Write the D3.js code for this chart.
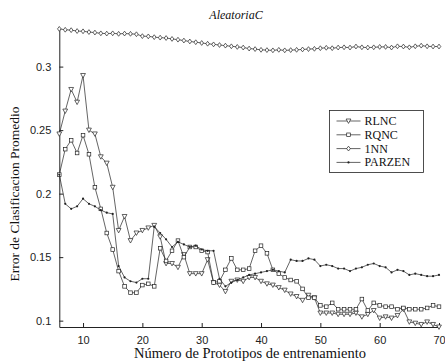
<!DOCTYPE html>
<html>
<head>
<meta charset="utf-8">
<script src="https://cdn.jsdelivr.net/npm/d3@7"></script>
<style>
  body { margin: 0; background: #fff; }
  svg { display: block; }
  .tick text { font-family: "Liberation Sans", Arial, sans-serif; font-size: 11px; fill: #222; }
  .lbl { font-family: "Liberation Serif", "Times New Roman", serif; fill: #111; }
</style>
</head>
<body>
<svg id="chart" width="445" height="363"></svg>
<script>
// prototypes count (x)
var prototipos = d3.range(6, 71);

var rlnc = [0.247, 0.265, 0.282, 0.272, 0.293, 0.250, 0.247, 0.229, 0.224, 0.205,
  0.171, 0.182, 0.163, 0.169, 0.171, 0.173, 0.175, 0.166, 0.145, 0.145,
  0.142, 0.152, 0.137, 0.137, 0.137, 0.148, 0.130, 0.128, 0.123, 0.131,
  0.132, 0.131, 0.134, 0.134, 0.131, 0.129, 0.128, 0.126, 0.124, 0.121,
  0.119, 0.116, 0.120, 0.118, 0.106, 0.106, 0.106, 0.105, 0.105, 0.105,
  0.106, 0.103, 0.105, 0.108, 0.102, 0.103, 0.102, 0.104, 0.109, 0.099,
  0.098, 0.097, 0.099, 0.097, 0.095];

var rqnc = [0.215, 0.235, 0.242, 0.232, 0.246, 0.231, 0.205, 0.188, 0.169, 0.156,
  0.139, 0.127, 0.122, 0.122, 0.128, 0.129, 0.127, 0.157, 0.147, 0.155,
  0.163, 0.150, 0.158, 0.158, 0.155, 0.154, 0.130, 0.131, 0.140, 0.149,
  0.140, 0.140, 0.141, 0.155, 0.159, 0.153, 0.140, 0.137, 0.134, 0.132,
  0.131, 0.125, 0.118, 0.118, 0.112, 0.111, 0.114, 0.109, 0.109, 0.109,
  0.109, 0.117, 0.108, 0.114, 0.112, 0.111, 0.111, 0.109, 0.110, 0.109,
  0.109, 0.109, 0.110, 0.112, 0.111];

var inn = [0.3297, 0.3290, 0.3287, 0.3280, 0.3278, 0.3272, 0.3268, 0.3262, 0.3260, 0.3262,
  0.3258, 0.3260, 0.3258, 0.3255, 0.3240, 0.3238, 0.3232, 0.3228, 0.3225, 0.3218,
  0.3212, 0.3205, 0.3198, 0.3192, 0.3186, 0.3180, 0.3175, 0.3170, 0.3165, 0.3160,
  0.3155, 0.3150, 0.3142, 0.3138, 0.3132, 0.3130, 0.3128, 0.3132, 0.3128, 0.3130,
  0.3132, 0.3135, 0.3138, 0.3140, 0.3145, 0.3148, 0.3145, 0.3150, 0.3152, 0.3150,
  0.3158, 0.3152, 0.3150, 0.3152, 0.3155, 0.3155, 0.3150, 0.3160, 0.3158, 0.3152,
  0.3160, 0.3165, 0.3160, 0.3158, 0.3158];

var parzen = [0.215, 0.192, 0.188, 0.190, 0.196, 0.192, 0.190, 0.187, 0.185, 0.184,
  0.143, 0.134, 0.131, 0.130, 0.133, 0.133, 0.174, 0.169, 0.164, 0.158,
  0.162, 0.160, 0.158, 0.159, 0.156, 0.155, 0.155, 0.133, 0.127, 0.130,
  0.132, 0.134, 0.136, 0.137, 0.138, 0.139, 0.140, 0.139, 0.138, 0.148,
  0.147, 0.147, 0.149, 0.148, 0.143, 0.144, 0.143, 0.141, 0.141, 0.139,
  0.141, 0.142, 0.144, 0.145, 0.143, 0.142, 0.138, 0.140, 0.139, 0.136,
  0.137, 0.136, 0.135, 0.135, 0.136];

var xTicks = [10, 20, 30, 40, 50, 60, 70];
var yTicks = [0.1, 0.15, 0.2, 0.25, 0.3];

var series = [
  {name: "RLNC", values: rlnc, marker: "tri"},
  {name: "RQNC", values: rqnc, marker: "sq"},
  {name: "1NN", values: inn, marker: "dia"},
  {name: "PARZEN", values: parzen, marker: "dot"}
];

var svg = d3.select("#chart");
var ink = "#222";

var x = d3.scaleLinear().domain([6, 70]).range([59.3, 439]);
var y = d3.scaleLinear().domain([0.095, 0.33]).range([327, 28.5]);

// axes (ticks inside, like matlab)
svg.append("g")
  .attr("transform", "translate(0,327)")
  .call(d3.axisBottom(x).tickValues(xTicks).tickSizeInner(-4).tickSizeOuter(0).tickPadding(9).tickFormat(d3.format("d")));
svg.append("g")
  .attr("transform", "translate(59.3,0)")
  .call(d3.axisLeft(y).tickValues(yTicks).tickSizeInner(-4).tickSizeOuter(0).tickPadding(8).tickFormat(function(d){ return d3.format("")(d); }));
svg.selectAll(".domain").attr("stroke", ink).attr("stroke-width", 1);
svg.selectAll(".tick line").attr("stroke", ink);

// draw markers
function drawMarker(g, type, cx, cy) {
  if (type == "tri") {
    g.append("path").attr("d", "M" + (cx-2.4) + "," + (cy-2) + "L" + (cx+2.4) + "," + (cy-2) + "L" + cx + "," + (cy+2.4) + "Z")
      .attr("fill", "white").attr("stroke", ink).attr("stroke-width", 0.7);
  } else if (type == "sq") {
    g.append("rect").attr("x", cx-1.8).attr("y", cy-1.8).attr("width", 3.6).attr("height", 3.6)
      .attr("fill", "white").attr("stroke", ink).attr("stroke-width", 0.7);
  } else if (type == "dia") {
    g.append("path").attr("d", "M" + cx + "," + (cy-2.4) + "L" + (cx+1.8) + "," + cy + "L" + cx + "," + (cy+2.4) + "L" + (cx-1.8) + "," + cy + "Z")
      .attr("fill", "white").attr("stroke", ink).attr("stroke-width", 0.7);
  } else {
    g.append("circle").attr("cx", cx).attr("cy", cy).attr("r", 1.1).attr("fill", ink);
  }
}

var line = d3.line()
  .x(function(d, i) { return x(prototipos[i]); })
  .y(function(d) { return y(d); });

series.forEach(function(s) {
  var g = svg.append("g").attr("class", "series " + s.name);
  g.append("path")
    .attr("d", line(s.values))
    .attr("fill", "none")
    .attr("stroke", ink)
    .attr("stroke-width", 0.7);
  s.values.forEach(function(v, i) {
    drawMarker(g, s.marker, x(prototipos[i]), y(v));
  });
});

// title and axis labels
svg.append("text").attr("class", "lbl")
  .attr("x", 236).attr("y", 19)
  .attr("text-anchor", "middle")
  .attr("font-style", "italic")
  .attr("font-size", 12)
  .text("AleatoriaC");
svg.append("text").attr("class", "lbl")
  .attr("x", 250).attr("y", 358)
  .attr("text-anchor", "middle")
  .attr("font-size", 14.5)
  .text("Número de Prototipos de entrenamiento");
svg.append("text").attr("class", "lbl")
  .attr("transform", "translate(19,194) rotate(-90)")
  .attr("text-anchor", "middle")
  .attr("font-size", 13.5)
  .text("Error de Clasificacion Promedio");

// legend
var legend = svg.append("g").attr("transform", "translate(329.5,110.5)");
legend.append("rect")
  .attr("width", 94).attr("height", 62)
  .attr("fill", "white").attr("stroke", ink).attr("stroke-width", 0.8);
series.forEach(function(s, i) {
  var ly = 10.5 + i * 13.8;
  legend.append("line")
    .attr("x1", 7).attr("x2", 31).attr("y1", ly).attr("y2", ly)
    .attr("stroke", ink).attr("stroke-width", 0.7);
  drawMarker(legend, s.marker, 19, ly);
  legend.append("text").attr("class", "lbl")
    .attr("x", 35).attr("y", ly + 4)
    .attr("font-size", 12)
    .text(s.name);
});
</script>
</body>
</html>
